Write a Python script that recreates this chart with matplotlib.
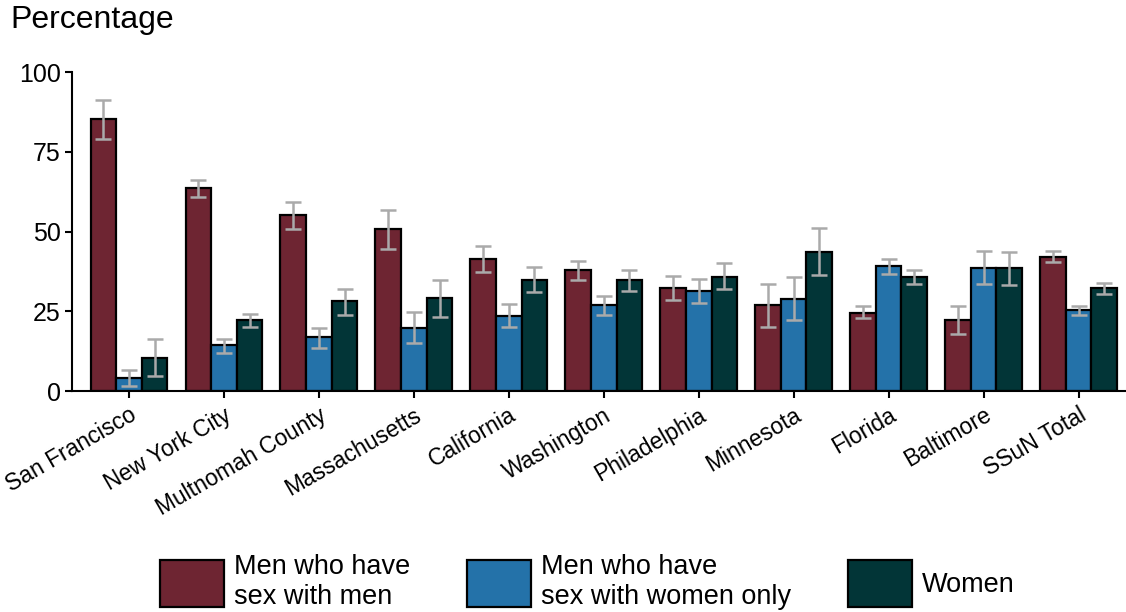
import matplotlib

matplotlib.use("Agg")
import matplotlib.pyplot as plt
import numpy as np

plt.rcParams["font.family"] = ["Liberation Sans", "DejaVu Sans"]

sites = ["San Francisco", "New York City", "Multnomah County", "Massachusetts",
         "California", "Washington", "Philadelphia", "Minnesota", "Florida",
         "Baltimore", "SSuN Total"]
groups = ["Men who have\nsex with men", "Men who have\nsex with women only", "Women"]

msm = [85.3, 63.6, 55.2, 50.8, 41.4, 38.1, 32.3, 26.9, 24.6, 22.3, 42.1]
msm_lo = [79.0, 60.9, 50.7, 44.7, 37.2, 34.9, 28.5, 20.2, 22.9, 17.8, 40.5]
msm_hi = [91.2, 66.1, 59.4, 56.7, 45.4, 40.9, 36.2, 33.7, 26.6, 26.7, 43.9]

msw = [4.0, 14.3, 16.9, 19.9, 23.5, 26.9, 31.3, 28.8, 39.1, 38.7, 25.4]
msw_lo = [1.7, 11.9, 13.6, 15.0, 20.1, 23.8, 27.5, 22.2, 36.7, 33.7, 23.9]
msw_hi = [6.5, 16.4, 19.9, 24.8, 27.3, 29.9, 35.1, 35.8, 41.3, 43.9, 26.7]

women = [10.5, 22.3, 28.1, 29.1, 34.9, 34.8, 35.9, 43.7, 35.9, 38.7, 32.2]
women_lo = [4.6, 20.2, 23.8, 23.2, 31.1, 31.4, 32.0, 36.5, 33.7, 33.3, 30.5]
women_hi = [16.4, 24.2, 31.9, 34.8, 38.8, 38.1, 40.2, 51.1, 38.1, 43.7, 33.9]

colors = ["#6e2532", "#2472a9", "#023537"]

fig = plt.figure(figsize=(11.26, 6.12), dpi=100)
ax = fig.add_axes([0.064, 0.361, 0.936, 0.521])

x = np.arange(len(sites))
width = 0.27
series = [(msm, msm_lo, msm_hi), (msw, msw_lo, msw_hi), (women, women_lo, women_hi)]
for i, (vals, lo, hi) in enumerate(series):
    pos = x + (i - 1) * width
    vals = np.array(vals)
    yerr = [vals - np.array(lo), np.array(hi) - vals]
    ax.bar(pos, vals, width, color=colors[i], edgecolor="black", linewidth=1.6,
           label=groups[i], zorder=2)
    ax.errorbar(pos, vals, yerr=yerr, fmt="none", ecolor="#aaaaaa", elinewidth=1.8,
                capsize=6, capthick=1.8, zorder=3)

ax.set_xlim(-0.6, 10.5)
ax.set_ylim(0, 100)
ax.set_yticks([0, 25, 50, 75, 100])
ax.set_xticks(x)
ax.set_xticklabels(sites, rotation=30, ha="right", rotation_mode="anchor", fontsize=16.5)
ax.tick_params(axis="y", labelsize=18, length=5, width=1.5, pad=3)
ax.tick_params(axis="x", length=5, width=1.5, pad=4)
for side in ["top", "right"]:
    ax.spines[side].set_visible(False)
for side in ["left", "bottom"]:
    ax.spines[side].set_linewidth(1.5)

fig.text(0.009, 0.967, "Percentage", fontsize=23, ha="left", va="center")

fig.legend(loc="center", bbox_to_anchor=(0.522, 0.049), ncol=3, frameon=False,
           fontsize=19.5, handlelength=2.33, handleheight=2.3, handletextpad=0.4,
           columnspacing=2.1, labelspacing=0.05)

fig.savefig("out.png", dpi=100)
